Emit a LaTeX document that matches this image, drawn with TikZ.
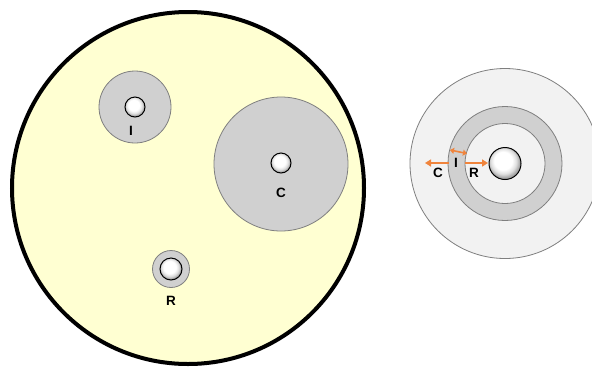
\documentclass[tikz,border=0pt]{standalone}
\usepackage{fontspec}
\setmainfont{Liberation Sans}
\usetikzlibrary{arrows.meta}
\definecolor{bigfill}{HTML}{FFFFD2}
\definecolor{ringgray}{HTML}{D0D0D0}
\definecolor{edgegray}{HTML}{7F7F7F}
\definecolor{outerfill}{HTML}{F2F2F2}
\definecolor{orangearr}{HTML}{F0843C}
\pgfdeclareradialshading{holeshade}{\pgfpoint{-4bp}{6bp}}{%
  color(0bp)=(white); color(14bp)=(white); color(20bp)=(gray!25); color(25bp)=(gray!70); color(50bp)=(gray)}
\tikzset{
  disc/.style={circle, draw=edgegray, line width=0.8pt, fill=ringgray, inner sep=0pt, minimum size=#1},
  hole/.style={circle, draw=black, line width=1pt, inner sep=0pt, minimum size=#1, shading=holeshade},
  lab/.style={font=\bfseries\fontsize{13.5}{13.5}\selectfont, inner sep=0pt},
  oarrow/.style={draw=orangearr, line width=2pt, -{Triangle[length=6pt,width=7pt]}},
}
\begin{document}
\begin{tikzpicture}[x=1pt,y=-1pt]
\useasboundingbox (0,0) rectangle (592,368);
% left diagram
\node[circle, draw=black, line width=4pt, fill=bigfill, inner sep=0pt, minimum size=352pt] (big) at (188,188) {};
\node[disc=72pt] (dI) at (135,107) {};
\node[hole=20pt] (hI) at (135,107) {};
\node[lab] (lI) at (131,131) {I};
\node[disc=134pt] (dC) at (281,164) {};
\node[hole=20pt] (hC) at (281,163) {};
\node[lab] (lC) at (281,193) {C};
\node[disc=37pt] (dR) at (171,269) {};
\node[hole=22pt] (hR) at (171,269) {};
\node[lab] (lR) at (171,301) {R};
% right diagram
\node[circle, draw=edgegray, line width=0.8pt, fill=outerfill, inner sep=0pt, minimum size=190pt] (outer) at (505,163.5) {};
\node[circle, draw=edgegray, line width=0.8pt, fill=ringgray, inner sep=0pt, minimum size=114pt] (ring) at (505,163.5) {};
\node[circle, draw=edgegray, line width=0.8pt, fill=outerfill, inner sep=0pt, minimum size=80pt] (inner) at (505,163.5) {};
\node[hole=32pt] (hM) at (505,163.5) {};
\coordinate (cS) at (449,163);
\coordinate (cE) at (425,163);
\coordinate (rS) at (465,163);
\coordinate (rE) at (488,163);
\coordinate (iA) at (450,150);
\coordinate (iB) at (467,153.5);
\draw[oarrow] (cS) -- (cE);
\draw[oarrow] (rS) -- (rE);
\draw[draw=orangearr, line width=1.6pt, {Triangle[length=4pt,width=6pt]}-{Triangle[length=4pt,width=6pt]}] (iA) -- (iB);
\node[lab] (rC) at (438,173) {C};
\node[lab] (rI) at (456,163) {I};
\node[lab] (rR) at (474,173) {R};
\end{tikzpicture}
\end{document}
